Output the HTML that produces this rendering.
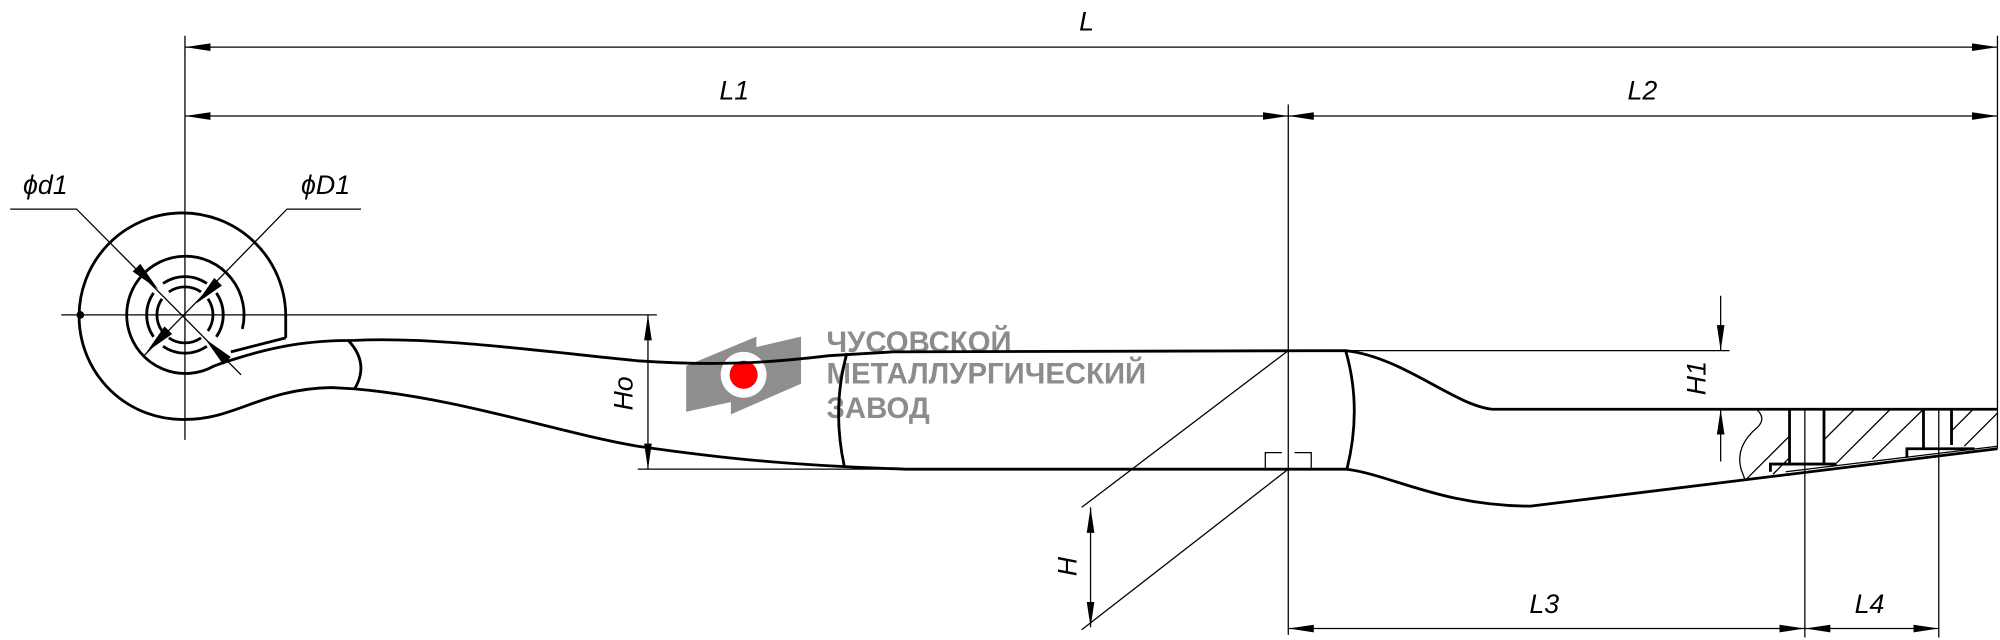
<!DOCTYPE html>
<html><head><meta charset="utf-8"><style>
html,body{margin:0;padding:0;background:#fff;}
svg{display:block;}
.t{font-family:"Liberation Sans",sans-serif;font-style:italic;font-size:21px;fill:#000;}
.g{font-family:"Liberation Sans","Noto Sans CJK SC",sans-serif;font-weight:bold;font-size:23px;fill:#8c8c8c;}
</style></head><body>
<svg width="2000" height="640" viewBox="0 0 1568 502" preserveAspectRatio="none" xmlns="http://www.w3.org/2000/svg">
<defs>
<marker id="a" viewBox="0 0 20 6" refX="20" refY="3" markerWidth="20" markerHeight="6" orient="auto-start-reverse" markerUnits="userSpaceOnUse"><path d="M0,0 L20,3 L0,6z" fill="#000"/></marker>
</defs>
<!-- logo first (under lines) -->
<g>
<path d="M538,287 L593,264 L593,311 L538,323z" fill="#8e8e8e"/>
<path d="M573,277 L628,264 L628,301 L573,325z" fill="#8e8e8e"/>
<circle cx="583" cy="294" r="18" fill="#fff"/>
<circle cx="583" cy="294" r="11" fill="#f00"/>
<text class="g" x="648" y="276">ЧУСОВСКОЙ</text>
<text class="g" x="648" y="301">МЕТАЛЛУРГИЧЕСКИЙ</text>
<text class="g" x="648" y="328">ЗАВОД</text>
</g>
<g fill="none" stroke="#000" stroke-width="1">
<line x1="145" y1="28" x2="145" y2="345"/>
<line x1="1566" y1="28" x2="1566" y2="352"/>
<line x1="1010" y1="82" x2="1010" y2="498"/>
<line x1="1415" y1="322" x2="1415" y2="500"/>
<line x1="1520" y1="322" x2="1520" y2="500"/>
<line x1="48" y1="247" x2="515" y2="247"/>
<line x1="500" y1="368" x2="700" y2="368"/>
<line x1="1055" y1="275" x2="1356" y2="275"/>
<line x1="145" y1="37" x2="1566" y2="37" marker-start="url(#a)" marker-end="url(#a)"/>
<line x1="145" y1="91" x2="1010" y2="91" marker-start="url(#a)" marker-end="url(#a)"/>
<line x1="1010" y1="91" x2="1566" y2="91" marker-start="url(#a)" marker-end="url(#a)"/>
<line x1="508" y1="247" x2="508" y2="368" marker-start="url(#a)" marker-end="url(#a)"/>
<line x1="1010" y1="493" x2="1415" y2="493" marker-start="url(#a)" marker-end="url(#a)"/>
<line x1="1415" y1="493" x2="1520" y2="493" marker-start="url(#a)" marker-end="url(#a)"/>
<line x1="855" y1="398" x2="855" y2="492" marker-start="url(#a)" marker-end="url(#a)"/>
<line x1="1349" y1="232" x2="1349" y2="275" marker-end="url(#a)"/>
<line x1="1349" y1="362" x2="1349" y2="321" marker-end="url(#a)"/>
<line x1="1010" y1="275" x2="848" y2="398"/>
<line x1="1010" y1="368" x2="848" y2="494"/>
<path d="M992,368 V355 H1005 M1015,355 H1028 V368"/>
<path d="M8,164 H60 L189,294"/>
<path d="M283,164 H225 L112,280"/>
</g>
<g fill="#000">
<path d="M124,227 L104,213 L110,207z"/>
<path d="M161,266 L181,280 L175,286z"/>
<path d="M154,238 L168,218 L174,224z"/>
<path d="M115,276 L129,256 L135,262z"/>
<circle cx="63" cy="247" r="3"/>
</g>
<g fill="none" stroke="#000" stroke-width="2.2">
<!-- eye outer -->
<path d="M224,265 L224,247 A81,81 0 1 0 145,329 C185,329 205,305 260,304 L278,305"/>
<path d="M224,265 L181,276"/>
<!-- ring merging into leaf top -->
<path d="M190,258 A46,46 0 1 0 168,287 Q176,284 186,281"/>
<!-- r30 arcs -->
<path d="M169.6,229.8 A30,30 0 0 1 169.6,264.2"/>
<path d="M162.2,271.6 A30,30 0 0 1 127.8,271.6"/>
<path d="M120.4,264.2 A30,30 0 0 1 120.4,229.8"/>
<path d="M127.8,222.4 A30,30 0 0 1 162.2,222.4"/>
<!-- r22 arcs -->
<path d="M163,234.4 A22,22 0 0 1 163,259.6"/>
<path d="M157.6,265 A22,22 0 0 1 132.4,265"/>
<path d="M127,259.6 A22,22 0 0 1 127,234.4"/>
<path d="M132.4,229 A22,22 0 0 1 157.6,229"/>
<!-- leaf top -->
<path d="M186,281 C215,272 240,267 278,267 C340,264 420,275 500,283 C560,287 600,285 650,279 L700,276 L1055,275 C1100,280 1140,318 1170,321 L1566,321"/>
<!-- leaf bottom -->
<path d="M278,305 C360,312 440,340 500,350 C570,360 620,365 710,368 L1055,368 C1090,372 1130,397 1200,397 L1566,352"/>
<path d="M273,267 Q290,285 278,305"/>
<path d="M664,277 Q652,320 662,366"/>
<path d="M1055,275 Q1068,320 1056,368"/>
<path d="M1403,321 V364 M1430,321 V364 M1508,321 V352 M1530,321 V349"/>
<path d="M1388,370 V364 H1440 M1495,359 V352 H1548"/>
</g>
<g fill="none" stroke="#000" stroke-width="1">
<path d="M1377,321 Q1385,328 1378,335 Q1360,350 1365,368 L1368,376"/>
<path d="M1370,375 L1403,342 M1390,372 L1403,359 M1430,345 L1454,321 M1440,363 L1482,321 M1468,360 L1508,321 M1530,338 L1547,321 M1540,350 L1566,324"/>
<line x1="1400" y1="370" x2="1566" y2="350"/>
</g>
<g>
<text class="t" x="846" y="24">L</text>
<text class="t" x="564" y="78">L1</text>
<text class="t" x="1276" y="78">L2</text>
<text class="t" x="1199" y="481">L3</text>
<text class="t" x="1454" y="481">L4</text>
<text class="t" x="18" y="152">ϕd1</text>
<text class="t" x="236" y="152">ϕD1</text>
<text class="t" transform="translate(496,322) rotate(-90)">Ho</text>
<text class="t" transform="translate(844,452) rotate(-90)">H</text>
<text class="t" transform="translate(1337,310) rotate(-90)">H1</text>
</g>
</svg>
</body></html>
